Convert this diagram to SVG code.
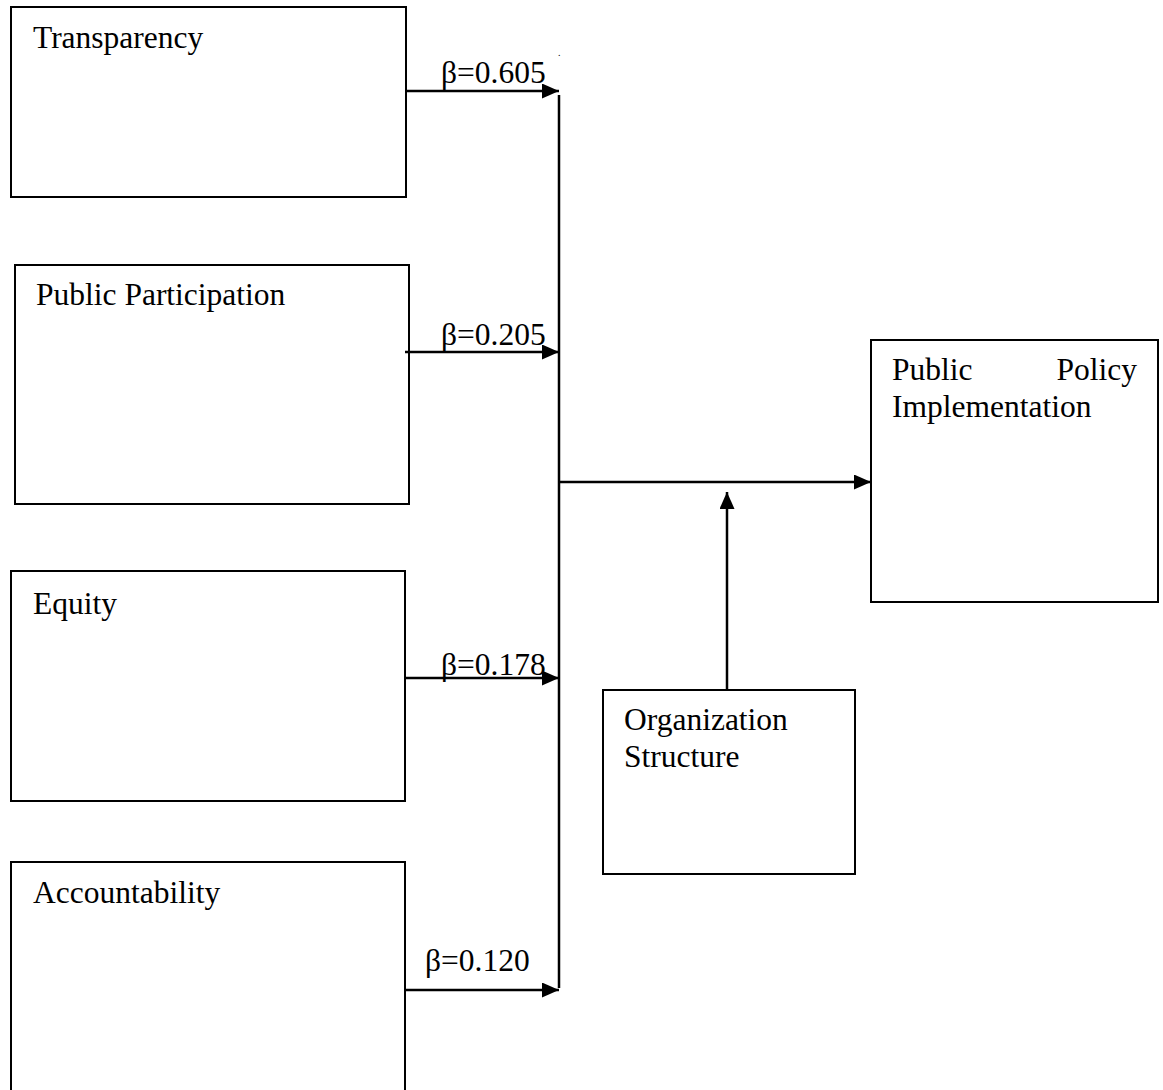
<svg xmlns="http://www.w3.org/2000/svg" width="1163" height="1090" viewBox="0 0 1163 1090">
<defs>
<style>
.box{fill:#fff;stroke:#000;stroke-width:2}
.t{font-family:"Liberation Serif","Times New Roman",serif;font-size:31.5px;fill:#000}
.c{fill:none;stroke:#000;stroke-width:2.5}
</style>
<marker id="ah" markerUnits="userSpaceOnUse" markerWidth="17" markerHeight="15" refX="17" refY="7.5" orient="auto">
<path d="M0,0 L17,7.5 L0,15 Z" fill="#000"/>
</marker>
</defs>
<rect width="1163" height="1090" fill="#fff"/>
<g id="transparency"><rect class="box" x="11" y="7" width="395" height="190"/><text class="t" x="33" y="48">Transparency</text></g>
<g id="public-participation"><rect class="box" x="15" y="265" width="394" height="239"/><text class="t" x="36" y="305">Public Participation</text></g>
<g id="equity"><rect class="box" x="11" y="571" width="394" height="230"/><text class="t" x="33" y="614">Equity</text></g>
<g id="accountability"><rect class="box" x="11" y="862" width="394" height="240"/><text class="t" x="33" y="903">Accountability</text></g>
<g id="organization-structure"><rect class="box" x="603" y="690" width="252" height="184"/><text class="t" x="624" y="730">Organization</text><text class="t" x="624" y="767">Structure</text></g>
<g id="public-policy-implementation"><rect class="box" x="871" y="340" width="287" height="262"/><text class="t" x="892" y="380">Public</text><text class="t" x="1137" y="380" text-anchor="end">Policy</text><text class="t" x="892" y="417">Implementation</text></g>
<g id="connectors">
<line class="c" x1="559" y1="95" x2="559" y2="988"/>
<line class="c" x1="406" y1="91" x2="559" y2="91" marker-end="url(#ah)"/>
<line class="c" x1="405" y1="352" x2="559" y2="352" marker-end="url(#ah)"/>
<line class="c" x1="405" y1="678" x2="559" y2="678" marker-end="url(#ah)"/>
<line class="c" x1="405" y1="990" x2="559" y2="990" marker-end="url(#ah)"/>
<line class="c" x1="559" y1="482" x2="871" y2="482" marker-end="url(#ah)"/>
<line class="c" x1="727" y1="690" x2="727" y2="492" marker-end="url(#ah)"/>
<text class="t" x="441" y="83">β=0.605</text>
<text class="t" x="441" y="345">β=0.205</text>
<text class="t" x="441" y="675">β=0.178</text>
<text class="t" x="425" y="971">β=0.120</text>
<text class="t" x="558" y="56" style="font-size:10px">.</text>
</g>
</svg>
